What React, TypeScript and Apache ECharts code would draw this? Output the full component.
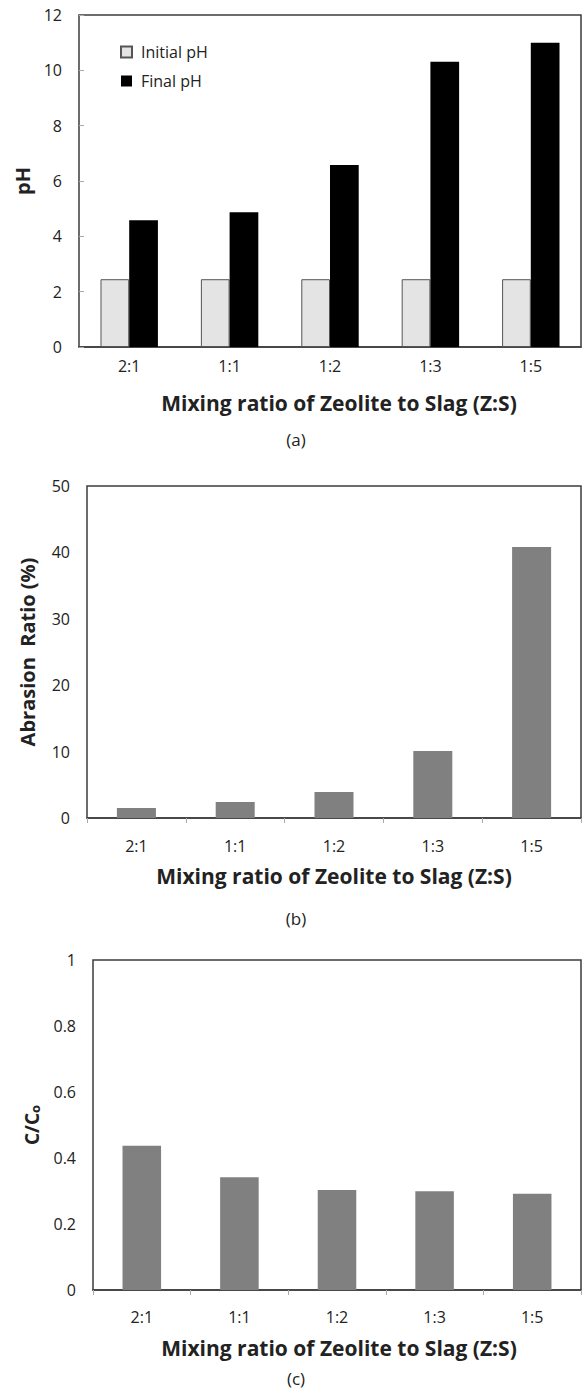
import React, { useEffect, useRef } from "react";
import * as echarts from "echarts";

const categories = ["2:1", "1:1", "1:2", "1:3", "1:5"];
const initialPH = [2.45, 2.45, 2.45, 2.45, 2.45];
const finalPH = [4.58, 4.87, 6.58, 10.31, 11.0];
const abrasionRatio = [1.5, 2.4, 3.9, 10.1, 40.8];
const cOverC0 = [0.437, 0.342, 0.303, 0.299, 0.292];

const xTitle = "Mixing ratio of Zeolite to Slag (Z:S)";
const FONT = "Open Sans";
const TXT = "#222";

export default function App() {
  const ref = useRef<HTMLDivElement>(null);
  useEffect(() => {
    document.body.style.margin = "0";
    const chart = echarts.init(ref.current!, null, { renderer: "svg" });
    const frame = { show: true, borderColor: "#3c3c3c", borderWidth: 1.5, backgroundColor: "transparent", containLabel: false };
    const xBase = (idx: number, margin: number, ticks: boolean, gap: number, pad: number) => ({
      type: "category",
      gridIndex: idx,
      data: categories,
      boundaryGap: true,
      axisLine: { show: true, lineStyle: { color: "#3c3c3c", width: 1.5 } },
      axisTick: { show: ticks, length: 5, lineStyle: { color: "#aaa" } },
      axisLabel: { margin, fontFamily: FONT, fontSize: 16, color: TXT },
      name: xTitle,
      nameLocation: "middle",
      nameGap: gap,
      nameTextStyle: { fontFamily: FONT, fontSize: 21, fontWeight: "bold", color: TXT, padding: [0, 0, 0, pad] },
    });
    const yBase = (idx: number, max: number, interval: number, name: any, gap: number, size: number, inTicks: boolean, extra: any = {}) => ({
      type: "value",
      gridIndex: idx,
      min: 0,
      max,
      interval,
      splitLine: { show: false },
      axisLine: { show: false },
      axisTick: { show: inTicks, inside: true, length: 5, lineStyle: { color: "#aaa" } },
      axisLabel: { margin: 17, fontFamily: FONT, fontSize: 16, color: TXT },
      name,
      nameLocation: "middle",
      nameRotate: 90,
      nameGap: gap,
      nameTextStyle: { fontFamily: FONT, fontSize: size, fontWeight: "bold", color: TXT, ...extra },
    });
    const panel = (t: string, y: number) => ({
      type: "text",
      x: 296,
      y,
      style: { text: t, fontFamily: FONT, fontSize: 17, fill: TXT, textAlign: "center", textVerticalAlign: "middle" },
    });
    chart.setOption({
      animation: false,
      backgroundColor: "#fff",
      grid: [
        { ...frame, left: 79, top: 15, width: 502, height: 332 },
        { ...frame, left: 87, top: 486, width: 494, height: 332 },
        { ...frame, left: 93, top: 960, width: 488, height: 330 },
      ],
      legend: {
        orient: "vertical",
        left: 115,
        top: 39,
        itemWidth: 11,
        itemHeight: 11,
        itemGap: 13,
        icon: "rect",
        textStyle: { fontFamily: FONT, fontSize: 16, color: TXT, padding: [0, 0, 0, 4] },
        data: ["Initial pH", "Final pH"],
      },
      xAxis: [xBase(0, 11, false, 45, 18), xBase(1, 20, true, 47, 0), xBase(2, 19, true, 47, 4)],
      yAxis: [
        yBase(0, 12, 2, "pH", 43, 20, true),
        yBase(1, 50, 10, "Abrasion  Ratio (%)", 50, 20, false),
        {
          ...yBase(2, 1, 0.2, "C/C{s|o}", 52, 19, false, {
            rich: { s: { fontFamily: FONT, fontSize: 13, fontWeight: "bold", color: TXT, verticalAlign: "bottom", lineHeight: 10, padding: [12, 0, 0, 0] } },
          }),
        },
      ],
      series: [
        {
          name: "Initial pH",
          type: "bar",
          xAxisIndex: 0,
          yAxisIndex: 0,
          data: initialPH,
          barWidth: "28.6%",
          barGap: "0%",
          itemStyle: { color: "#e4e4e4", borderColor: "#555", borderWidth: 1 },
        },
        {
          name: "Final pH",
          type: "bar",
          xAxisIndex: 0,
          yAxisIndex: 0,
          data: finalPH,
          barWidth: "28.6%",
          barGap: "0%",
          itemStyle: { color: "#000" },
        },
        {
          name: "Abrasion Ratio",
          type: "bar",
          xAxisIndex: 1,
          yAxisIndex: 1,
          data: abrasionRatio,
          barWidth: "39.5%",
          itemStyle: { color: "#808080" },
        },
        {
          name: "C/Co",
          type: "bar",
          xAxisIndex: 2,
          yAxisIndex: 2,
          data: cOverC0,
          barWidth: "39.5%",
          itemStyle: { color: "#808080" },
        },
      ],
      graphic: [panel("(a)", 439), panel("(b)", 918), panel("(c)", 1378)],
    });
    return () => chart.dispose();
  }, []);
  return <div ref={ref} style={{ width: 584, height: 1398 }} />;
}
